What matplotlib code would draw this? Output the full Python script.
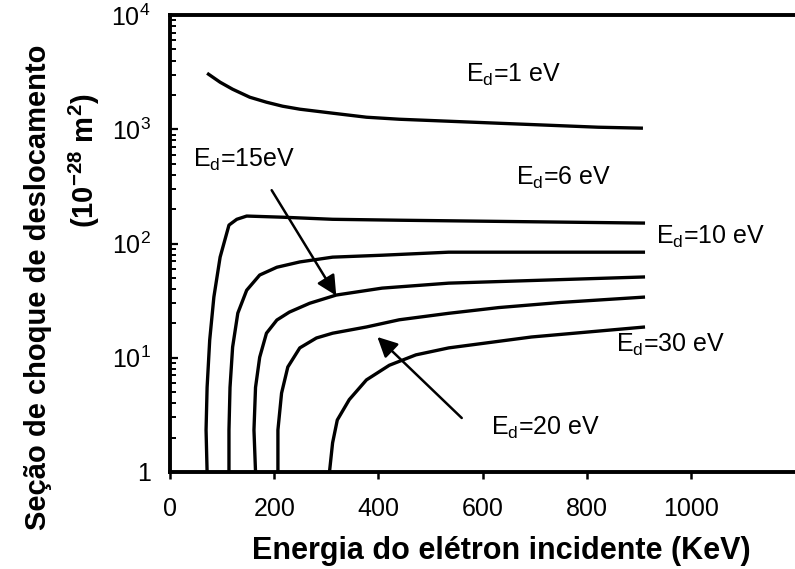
import numpy as np
import matplotlib.pyplot as plt

# ----------------------------
# Data
# ----------------------------

# Energia do eletron incidente (keV) / secao de choque (1e-28 m^2)
e_1 = [71, 96, 120, 153, 185, 216, 249, 312, 377, 440, 631, 822, 908]
s_1 = [3097, 2583, 2243, 1909, 1727, 1593, 1500, 1384, 1276, 1225, 1130, 1043, 1023]

e_6 = [71, 69, 71, 76, 84, 96, 113, 128, 147, 216, 312, 440, 912]
s_6 = [1.0, 2.33, 5.5, 14.3, 34, 76, 145, 163, 174, 170, 163, 160, 151]

e_10 = [113, 113, 115, 120, 130, 147, 172, 205, 249, 312, 407, 535, 912]
s_10 = [1.0, 2.33, 5.5, 12.4, 24.6, 39, 53, 62, 69, 76, 79, 84, 84]

e_15 = [164, 161, 164, 172, 185, 205, 229, 268, 319, 407, 535, 912]
s_15 = [1.0, 2.33, 5.5, 10.1, 16.4, 21.4, 25.1, 30, 35.4, 40.7, 45, 51]

e_20 = [207, 207, 214, 226, 249, 281, 312, 377, 440, 535, 631, 750, 912]
s_20 = [1.0, 2.33, 4.9, 8.3, 12.2, 14.9, 16.4, 18.6, 21.5, 24.5, 27.5, 30.5, 34]

e_30 = [306, 312, 321, 344, 377, 421, 472, 535, 694, 912]
s_30 = [1.0, 1.8, 2.85, 4.3, 6.4, 8.6, 10.6, 12.2, 15.2, 18.6]

curves = [(e_1, s_1), (e_6, s_6), (e_10, s_10),
          (e_15, s_15), (e_20, s_20), (e_30, s_30)]

x_ticks = [0, 200, 400, 600, 800, 1000]
y_ticks = [1, 10, 100, 1000, 10000]
y_ticklabels = ["1", r"$\mathregular{10^{1}}$", r"$\mathregular{10^{2}}$",
                r"$\mathregular{10^{3}}$", r"$\mathregular{10^{4}}$"]

# ----------------------------
# Style
# ----------------------------

plt.rcParams["mathtext.fontset"] = "custom"
plt.rcParams["mathtext.rm"] = "Liberation Sans"
plt.rcParams["mathtext.bf"] = "Liberation Sans:bold"
plt.rcParams["axes.unicode_minus"] = False
sans = "Liberation Sans"

fig = plt.figure(figsize=(7.95, 5.69), dpi=100)
ax = fig.add_axes([0.214, 0.1705, 0.786, 0.803])

for e, s in curves:
    ax.plot(e, s, color="black", lw=2.4, solid_capstyle="butt",
            solid_joinstyle="round")

ax.set_yscale("log")
ax.set_xlim(0, 1200)
ax.set_ylim(1, 10000)

ax.set_xticks(x_ticks)
ax.set_xticklabels([str(v) for v in x_ticks], family=sans, fontsize=18)
ax.set_yticks(y_ticks)
ax.set_yticklabels(y_ticklabels, family=sans, fontsize=18)

ax.tick_params(axis="x", direction="out", length=5, width=1.8, pad=13)
ax.tick_params(axis="y", which="major", direction="in", length=6, width=1.6, pad=14)
ax.tick_params(axis="y", which="minor", direction="in", length=4, width=1.4)

for side in ["left", "bottom", "top"]:
    ax.spines[side].set_linewidth(2.8)
ax.spines["right"].set_visible(False)

# ----------------------------
# Annotations
# ----------------------------

txt = dict(family=sans, fontsize=18, ha="left", va="center")
ax.text(568, 2980, r"$\mathregular{E_d}$=1 eV", **txt)
ax.text(665, 373, r"$\mathregular{E_d}$=6 eV", **txt)
ax.text(933, 114, r"$\mathregular{E_d}$=10 eV", **txt)
ax.text(857, 12.9, r"$\mathregular{E_d}$=30 eV", **txt)

arrow = dict(arrowstyle="-|>", mutation_scale=30, lw=1.8, color="black",
             shrinkA=0, shrinkB=0)
ax.annotate("", xy=(319, 35), xytext=(195, 293), arrowprops=arrow)
ax.annotate("", xy=(398, 15.2), xytext=(560, 2.97), arrowprops=arrow)
ax.text(44, 535, r"$\mathregular{E_d}$=15eV", **txt)
ax.text(616, 2.43, r"$\mathregular{E_d}$=20 eV", **txt)

# ----------------------------
# Axis titles
# ----------------------------

fig.text(0.631, 0.032, "Energia do elétron incidente (KeV)",
         family=sans, weight="bold", fontsize=22,
         ha="center", va="center")
fig.text(0.048, 0.495, "Seção de choque de deslocamento",
         family=sans, weight="bold", fontsize=21,
         rotation=90, ha="center", va="center")
fig.text(0.106, 0.718, r"(10$^{\mathbf{-28}}$ m$^{\mathbf{2}}$)",
         family=sans, weight="bold", fontsize=21,
         rotation=90, ha="center", va="center")

fig.savefig("out.png", dpi=100)
